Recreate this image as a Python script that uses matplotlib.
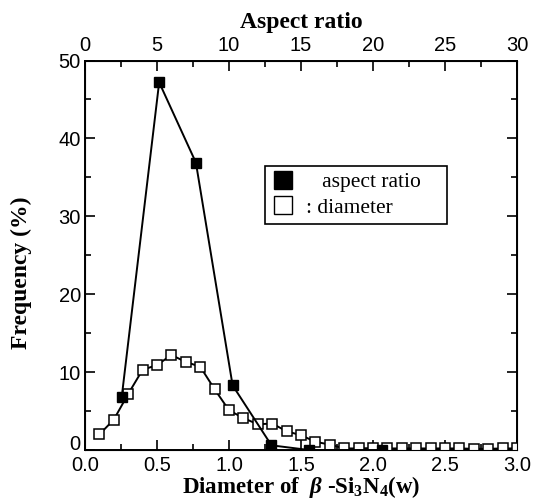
import matplotlib
matplotlib.use("Agg")
import matplotlib.pyplot as plt
import matplotlib.transforms as mtransforms
from matplotlib.lines import Line2D
from matplotlib.ticker import MultipleLocator

plt.rcParams['mathtext.fontset'] = 'custom'
plt.rcParams['mathtext.rm'] = 'Liberation Serif:bold'
plt.rcParams['mathtext.it'] = 'Liberation Serif:italic:bold'
plt.rcParams['mathtext.bf'] = 'Liberation Serif:bold'

# Diameter distribution (bottom axis, um)
diameter_x = [0.1, 0.2, 0.3, 0.4, 0.5, 0.6, 0.7, 0.8, 0.9, 1.0,
              1.1, 1.2, 1.3, 1.4, 1.5, 1.6, 1.7, 1.8, 1.9, 2.0,
              2.1, 2.2, 2.3, 2.4, 2.5, 2.6, 2.7, 2.8, 2.9, 3.0]
diameter_freq = [2.0, 3.9, 7.2, 10.3, 10.9, 12.2, 11.3, 10.7, 7.8, 5.1,
                 4.1, 3.3, 3.4, 2.4, 1.9, 1.05, 0.7, 0.2, 0.2, 0.25,
                 0.2, 0.2, 0.2, 0.2, 0.2, 0.2, 0.15, 0.15, 0.2, 0.2]

# Aspect ratio distribution (top axis)
aspect_x = [2.55, 5.15, 7.7, 10.25, 12.95, 15.55, 20.6]
aspect_freq = [6.8, 47.2, 36.9, 8.3, 0.6, 0.0, 0.0]

bottom_ticks = [0.0, 0.5, 1.0, 1.5, 2.0, 2.5, 3.0]
bottom_labels = ["0.0", "0.5", "1.0", "1.5", "2.0", "2.5", "3.0"]
top_ticks = [0, 5, 10, 15, 20, 25, 30]
y_ticks = [0, 10, 20, 30, 40, 50]

fig = plt.figure(figsize=(5.44, 5.04), dpi=100)
ax = fig.add_axes([85/544, 1-450/504, (517-85)/544, (450-60.5)/504])

tick_font = dict(family='Liberation Sans', size=14.5)
label_font = dict(family='Liberation Serif', weight='bold', size=17)

ax.plot(diameter_x, diameter_freq, color='black', lw=1.4, marker='s',
        ms=7, mfc='white', mec='black', mew=1.1, zorder=3)
ax.set_xlim(0, 3.0)
ax.set_ylim(0, 50)
ax.set_xticks(bottom_ticks)
ax.set_xticklabels(bottom_labels, **tick_font)
ax.xaxis.set_minor_locator(MultipleLocator(0.25))
ax.set_yticks(y_ticks)
ax.set_yticklabels([str(v) for v in y_ticks], **tick_font)
ax.yaxis.set_minor_locator(MultipleLocator(5))
ax.tick_params(which='both', direction='in', right=True, top=False)
ax.tick_params(which='major', length=7, width=1.2)
ax.tick_params(which='minor', length=4, width=1.2)
ax.tick_params(axis='x', pad=4)
ax.tick_params(axis='y', pad=3)
for s in ax.spines.values():
    s.set_linewidth(1.4)

# raise the "0" label on the y axis slightly, as in the original
ylabels = ax.get_yticklabels()
ylabels[0].set_transform(ylabels[0].get_transform() +
                         mtransforms.ScaledTranslation(0, 8/100, fig.dpi_scale_trans))

ax.set_xlabel(r"Diameter of  $\beta$ -Si$_3$N$_4$(w)",
              family='Liberation Serif', weight='bold', size=16.5)
ax.xaxis.set_label_coords(0.5, -0.062)
ax.set_ylabel("Frequency (%)", **label_font)
ax.yaxis.set_label_coords(-0.123, 0.454)

ax2 = ax.twiny()
ax2.plot(aspect_x, aspect_freq, color='black', lw=1.4, marker='s',
         ms=7, mfc='black', mec='black', zorder=4)
ax2.set_xlim(0, 30)
ax2.set_xticks(top_ticks)
ax2.set_xticklabels([str(v) for v in top_ticks], **tick_font)
ax2.xaxis.set_minor_locator(MultipleLocator(2.5))
ax2.tick_params(which='both', direction='in')
ax2.tick_params(which='major', length=7, width=1.2, pad=4)
ax2.tick_params(which='minor', length=4, width=1.2)
ax2.set_xlabel("Aspect ratio", labelpad=6, **label_font)

handles = [
    Line2D([], [], ls='none', marker='s', ms=13, mfc='black', mec='black'),
    Line2D([], [], ls='none', marker='s', ms=13, mfc='white', mec='black', mew=1.0),
]
leg = ax2.legend(handles, ["   aspect ratio", ": diameter"],
                 bbox_to_anchor=(0.417, 0.565, 0.42, 0.165), loc='upper left',
                 mode='expand', borderaxespad=0, fancybox=False,
                 prop=dict(family='Liberation Serif', size=15.5),
                 handlelength=1.1, handletextpad=0.5, labelspacing=0.25,
                 borderpad=0.3, framealpha=1)
leg.get_frame().set_edgecolor('black')
leg.get_frame().set_linewidth(1.2)

fig.savefig("out.png", dpi=100)
